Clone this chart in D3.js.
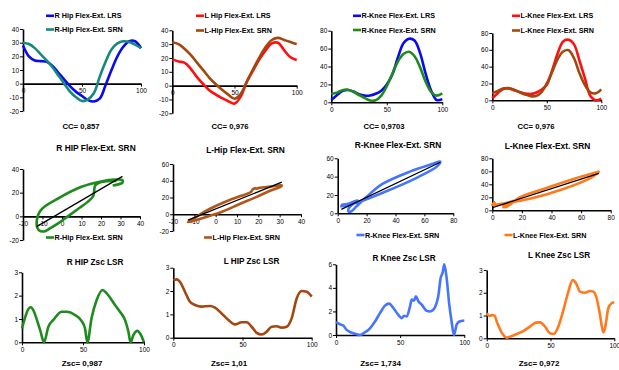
<!DOCTYPE html>
<html>
<head>
<meta charset="utf-8">
<script src="https://cdn.jsdelivr.net/npm/d3@7"></script>
<style>
  body { margin: 0; background: #fff; }
  svg text { font-family: "Liberation Sans", Arial, sans-serif; }
</style>
</head>
<body>
<svg id="chart" width="619" height="370"></svg>
<script>
// % of gait cycle
const pct = [0, 5, 10, 15, 20, 25, 30, 35, 40, 45, 50, 55, 60, 65, 70, 75, 80, 85, 90, 95, 100];

// joint angles (deg)
const rHipLRS = [28, 20, 17, 16.5, 16, 13, 8, 3, -2, -6, -9, -12, -13, -11, -1, 10, 20, 27, 31, 31, 26];
const rHipSRN = [30, 29, 26, 21.5, 17, 12, 6, 0, -6, -10, -12.7, -11.5, -7, 5, 16, 25, 29.5, 31, 30.5, 28.5, 26];
const lHipLRS = [19, 17.5, 16.5, 12, 6, 1, -3.5, -6.5, -9, -11.3, -13, -8, 3, 11, 19, 25.5, 30.5, 31, 25.5, 20.5, 18.5];
const lHipSRN = [31.3, 30, 26.5, 22, 16.5, 11, 5.5, 1, -3, -6.5, -9.5, -6, 3, 12, 20.5, 28, 33, 34.5, 33, 31.5, 30];
const rKneeLRS = [2.5, 8, 12.5, 13.7, 12, 9, 7.5, 7.5, 9.5, 13, 20, 31, 50, 66, 71, 69, 55, 32, 13, 2.5, 3.5];
const rKneeSRN = [9.3, 10.8, 13.5, 14, 11.7, 8, 5, 2, 2.3, 7.5, 18, 32, 45.5, 54, 56.5, 51.5, 39, 23, 11.5, 7.5, 10];
const lKneeLRS = [2.5, 8.5, 13.5, 14, 12, 10, 8, 7.5, 9, 12.5, 18.5, 36, 56, 70, 72, 66.5, 47, 26, 5, 0, 2];
const lKneeSRN = [8.5, 11, 14, 14.5, 12.5, 9.5, 7, 5, 5, 9.5, 20, 34, 49, 58, 59.5, 50, 32, 18, 9.5, 8.3, 13];

const ccLabels = ["CC= 0,857", "CC= 0,976", "CC= 0,9703", "CC= 0,976"];

// Zsc curves
const rHipZscX = [0, 7, 15, 18, 21.6, 25.7, 32.5, 36.6, 43.4, 48.9, 51.6, 53.6, 57, 61.2, 66, 69.4, 76.2, 80.3, 84.4, 87.2, 89, 91.3, 94.5, 96.7, 100];
const rHipZscY = [0.6, 1.5, 0.5, 0, 0.67, 0.96, 1.31, 1.31, 1.17, 0.91, 0.6, 0, 1.03, 1.81, 2.24, 2.1, 1.6, 1.31, 0.96, 0.46, 0, 0.31, 0.49, 0.39, 0];
const lHipZscX = [0, 2.4, 4.8, 8.4, 12, 15.7, 20.5, 26.5, 30.1, 34.9, 39.8, 44.6, 49.4, 53, 56.6, 60.2, 63.9, 67.5, 71.1, 74.7, 78.3, 81.9, 85.5, 89.2, 92.8, 96.4, 100];
const lHipZscY = [2.47, 2.5, 2.4, 1.97, 1.54, 1.4, 1.33, 1.36, 1.29, 1.04, 0.76, 0.57, 0.66, 0.66, 0.47, 0.21, 0.14, 0.26, 0.47, 0.49, 0.43, 0.47, 0.83, 1.69, 2.0, 1.97, 1.76];
const rKneeZscX = [0, 3.1, 5.7, 8.3, 12.2, 16.1, 18.7, 22.6, 26.5, 30.4, 34.3, 38.2, 41.3, 44.7, 48.6, 51.2, 53, 55.1, 57.7, 59, 60.8, 62.3, 64.2, 66.8, 70.6, 73.2, 75.8, 78.4, 79.7, 81.6, 83.1, 84.4, 86.2, 88.3, 90.1, 91.9, 94, 96.1, 100];
const rKneeZscY = [1.09, 0.91, 0.8, 0.43, 0.2, 0.06, 0, 0.23, 0.57, 1.14, 1.86, 2.49, 2.66, 2.29, 1.71, 1.43, 1.63, 1.57, 2.43, 3.0, 2.91, 3.29, 2.86, 2.57, 2.06, 2, 2.14, 2.71, 3.29, 4.86, 5.29, 6.0, 4.86, 2.57, 1.14, 0, 0.86, 1.14, 1.23];
const lKneeZscX = [0, 2.1, 3.9, 6, 8.4, 11.7, 15.7, 18.3, 23.5, 28.7, 33.9, 38.6, 41.8, 45.7, 49.6, 52.7, 56.1, 60.1, 64, 67.4, 70, 73.1, 77, 80.9, 83.6, 86.2, 88.8, 91.4, 92.7, 95.3, 97.9, 100];
const lKneeZscY = [1.1, 0.98, 1.02, 1.0, 0.66, 0.26, 0.03, 0.07, 0.19, 0.32, 0.51, 0.69, 0.7, 0.51, 0.22, 0.19, 0.51, 1.24, 2.05, 2.56, 2.42, 2.05, 2.0, 2.08, 2.05, 1.76, 1.02, 0.26, 0.44, 1.32, 1.54, 1.58];

const zscLabels = ["Zsc= 0,987", "Zsc= 1,01", "Zsc= 1,734", "Zsc= 0,972"];

// tick values
const pctTicks = [0, 50, 100];
const hipTicks = [-20, -10, 0, 10, 20, 30, 40];
const kneeTicks = [0, 20, 40, 60, 80];
const loopHipX = [-20, -10, 0, 10, 20, 30, 40];
const rLoopY = [-20, 0, 20, 40];
const lLoopY = [-20, 0, 20, 40, 60];
const kneeLoopX = [0, 20, 40, 60, 80];
const rKneeLoopY = [0, 20, 40, 60];
const zscTicks3 = [0, 1, 2, 3];
const zscTicks6 = [0, 2, 4, 6];

const svg = d3.select('#chart');
const BLUE = '#0a0af0', TEAL = '#15897b', RED = '#ff1010', BROWN = '#a3470f',
      GREEN = '#1d8c1d', LBLUE = '#4575ff', ORANGE = '#ff7a1c', LBROWN = '#b2561c';

function axes(xs, ys, xTicks, yTicks, yAt) {
  const gx = svg.append('g')
    .attr('transform', `translate(0,${ys(yAt)})`)
    .call(d3.axisBottom(xs).tickValues(xTicks).tickSize(3).tickSizeOuter(0).tickPadding(2).tickFormat(d => String(d)));
  const gy = svg.append('g')
    .attr('transform', `translate(${xs.range()[0]},0)`)
    .call(d3.axisLeft(ys).tickValues(yTicks).tickSize(3).tickSizeOuter(0).tickPadding(1).tickFormat(d => String(d)));
  [gx, gy].forEach(g => {
    g.attr('font-size', 6.5).attr('font-family', '"Liberation Sans", Arial, sans-serif');
    g.select('.domain').attr('stroke-width', 1.6);
    g.selectAll('.tick line').attr('stroke-width', 1);
  });
}

function label(x, y, txt, size, anchor) {
  svg.append('text').attr('x', x).attr('y', y).attr('font-size', size)
    .attr('font-weight', 'bold').attr('text-anchor', anchor || 'middle').text(txt);
}

function legendRow(x, y, color, txt) {
  svg.append('line').attr('x1', x).attr('x2', x + 8).attr('y1', y - 2.5).attr('y2', y - 2.5)
    .attr('stroke', color).attr('stroke-width', 2.6);
  label(x + 8.5, y, txt, 7.2, 'start');
}

function path(xs, ys, pts, color, curve, w) {
  svg.append('path').datum(pts)
    .attr('d', d3.line().x(d => xs(d[0])).y(d => ys(d[1])).curve(curve))
    .attr('fill', 'none').attr('stroke', color).attr('stroke-width', w || 2.6)
    .attr('stroke-linejoin', 'round');
}

// ---- row 1: angle curves ----
const topPanels = [
  { xr: [23, 141], yr: [111, 29], yd: [-20, 40], yt: hipTicks, a: rHipLRS, b: rHipSRN, ca: BLUE, cb: TEAL,
    la: 'R Hip Flex-Ext. LRS', lb: 'R-Hip Flex-Ext. SRN', lx: 46, ly: [18.3, 32], cc: [81, 129] },
  { xr: [172.3, 296.7], yr: [113.3, 30.3], yd: [-20, 40], yt: hipTicks, a: lHipLRS, b: lHipSRN, ca: RED, cb: BROWN,
    la: 'L Hip Flex-Ext. LRS', lb: 'L-Hip Flex-Ext. SRN', lx: 196, ly: [18.3, 33], cc: [230, 129] },
  { xr: [331.3, 442.3], yr: [102.3, 30.7], yd: [0, 80], yt: kneeTicks, a: rKneeLRS, b: rKneeSRN, ca: BLUE, cb: GREEN,
    la: 'R-Knee Flex-Ext. LRS', lb: 'R-Knee Flex-Ext. SRN', lx: 353, ly: [18.3, 32.5], cc: [384, 129] },
  { xr: [492.3, 601.3], yr: [100.3, 33], yd: [0, 80], yt: kneeTicks, a: lKneeLRS, b: lKneeSRN, ca: RED, cb: BROWN,
    la: 'L-Knee Flex-Ext. LRS', lb: 'L-Knee Flex-Ext. SRN', lx: 512, ly: [18.3, 33], cc: [536, 129] }
];
topPanels.forEach((p, i) => {
  const x = d3.scaleLinear().domain([0, 100]).range(p.xr);
  const y = d3.scaleLinear().domain(p.yd).range(p.yr);
  axes(x, y, pctTicks, p.yt, 0);
  path(x, y, pct.map((t, k) => [t, p.a[k]]), p.ca, d3.curveCatmullRom);
  path(x, y, pct.map((t, k) => [t, p.b[k]]), p.cb, d3.curveCatmullRom);
  legendRow(p.lx, p.ly[0], p.ca, p.la);
  legendRow(p.lx, p.ly[1], p.cb, p.lb);
  label(p.cc[0], p.cc[1], ccLabels[i], 7.7);
});

// ---- row 2: angle-angle plots with linear trendline ----
const midPanels = [
  { xr: [23, 140], yr: [240, 169], xd: [-20, 40], yd: [-20, 40], xt: loopHipX, yt: rLoopY, a: rHipLRS, b: rHipSRN, c: GREEN,
    title: 'R HIP Flex-Ext.  SRN', tp: [96, 151], leg: 'R-Hip Flex-Ext. SRN', lp: [46, 240] },
  { xr: [173, 301], yr: [231, 164], xd: [-20, 40], yd: [-20, 60], xt: loopHipX, yt: lLoopY, a: lHipLRS, b: lHipSRN, c: LBROWN,
    title: 'L-Hip Flex-Ext. SRN', tp: [245.5, 153], leg: 'L-Hip Flex-Ext. SRN', lp: [204, 240] },
  { xr: [337.7, 453.3], yr: [213.3, 158.3], xd: [0, 80], yd: [0, 60], xt: kneeLoopX, yt: rKneeLoopY, a: rKneeLRS, b: rKneeSRN, c: LBLUE,
    title: 'R-Knee Flex-Ext. SRN', tp: [398, 148], leg: 'R-Knee Flex-Ext. SRN', lp: [356.5, 237.5] },
  { xr: [492.3, 610.7], yr: [210.3, 158.3], xd: [0, 80], yd: [0, 80], xt: kneeLoopX, yt: kneeTicks, a: lKneeLRS, b: lKneeSRN, c: ORANGE,
    title: 'L-Knee Flex-Ext. SRN', tp: [547.5, 148.7], leg: 'L-Knee Flex-Ext. SRN', lp: [504.5, 237.5] }
];
midPanels.forEach(p => {
  const x = d3.scaleLinear().domain(p.xd).range(p.xr);
  const y = d3.scaleLinear().domain(p.yd).range(p.yr);
  axes(x, y, p.xt, p.yt, 0);
  const pts = p.a.map((v, k) => [v, p.b[k]]);
  path(x, y, pts, p.c, d3.curveCatmullRom);
  // least squares trendline
  const mx = d3.mean(p.a), my = d3.mean(p.b);
  const slope = d3.sum(p.a, (v, k) => (v - mx) * (p.b[k] - my)) / d3.sum(p.a, v => (v - mx) ** 2);
  const [x0, x1] = d3.extent(p.a);
  path(x, y, [[x0, my + slope * (x0 - mx)], [x1, my + slope * (x1 - mx)]], '#000', d3.curveLinear, 1.3);
  label(p.tp[0], p.tp[1], p.title, 8.4);
  legendRow(p.lp[0], p.lp[1], p.c, p.leg);
});

// ---- row 3: Zsc curves ----
const botPanels = [
  { xr: [22, 144], yr: [342.3, 272.3], yd: [0, 3], yt: zscTicks3, xs: rHipZscX, ys: rHipZscY, c: GREEN,
    title: 'R HIP Zsc LSR', tp: [95, 265], zp: [82, 366] },
  { xr: [173.3, 311.7], yr: [337.7, 267.7], yd: [0, 3], yt: zscTicks3, xs: lHipZscX, ys: lHipZscY, c: BROWN,
    title: 'L HIP Zsc LSR', tp: [251.5, 264], zp: [229, 366] },
  { xr: [336, 464.3], yr: [335, 264.3], yd: [0, 6], yt: zscTicks6, xs: rKneeZscX, ys: rKneeZscY, c: LBLUE,
    title: 'R Knee Zsc LSR', tp: [404, 260.7], zp: [380.5, 366] },
  { xr: [486.7, 614.3], yr: [338.3, 270], yd: [0, 3], yt: zscTicks3, xs: lKneeZscX, ys: lKneeZscY, c: ORANGE,
    title: 'L Knee Zsc LSR', tp: [559, 258], zp: [539, 366] }
];
botPanels.forEach((p, i) => {
  const x = d3.scaleLinear().domain([0, 100]).range(p.xr);
  const y = d3.scaleLinear().domain(p.yd).range(p.yr);
  axes(x, y, pctTicks, p.yt, 0);
  path(x, y, p.xs.map((t, k) => [t, p.ys[k]]), p.c, d3.curveMonotoneX);
  label(p.tp[0], p.tp[1], p.title, 8.2);
  label(p.zp[0], p.zp[1], zscLabels[i], 8);
});
</script>
</body>
</html>
